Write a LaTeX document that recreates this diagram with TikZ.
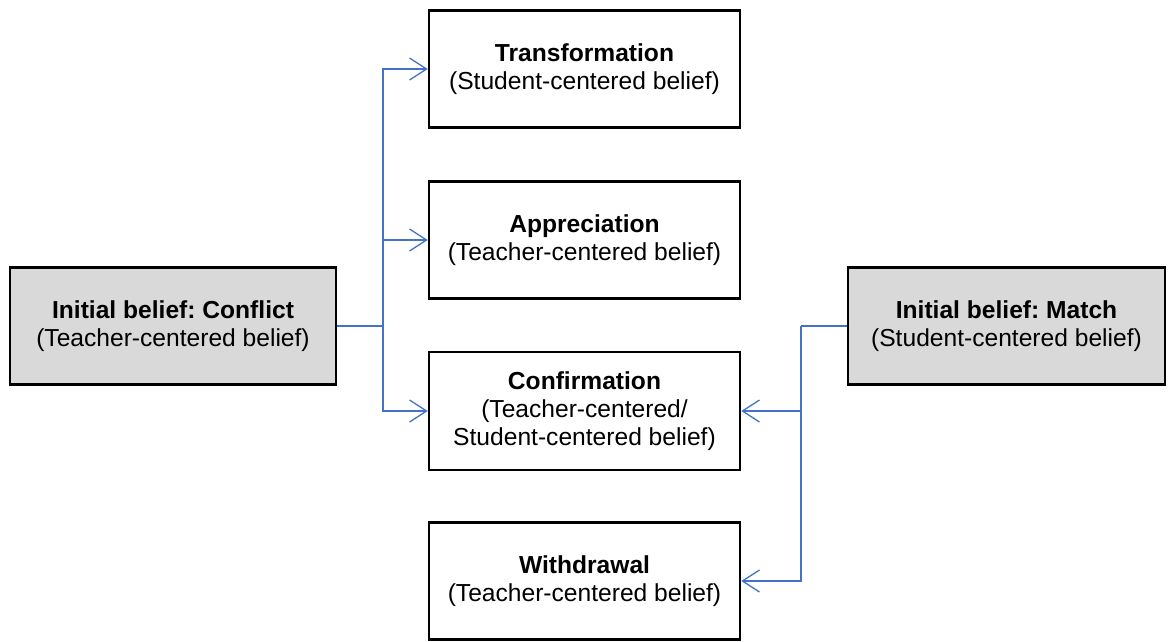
\documentclass[tikz,border=0pt]{standalone}
\usepackage{fontspec}
\setmainfont{Liberation Sans}
\frenchspacing
\usetikzlibrary{arrows.meta}
\definecolor{conn}{HTML}{4472C4}
\definecolor{boxgray}{HTML}{D9D9D9}
\begin{document}
\begin{tikzpicture}[x=1pt,y=-1pt,
  box/.style={draw=black, line width=2.5pt, align=center, inner sep=0pt,
    font=\fontsize{24.6}{28}\selectfont, minimum height=117pt},
  midbox/.style={box, minimum width=311pt},
  startbox/.style={box, fill=boxgray},
  link/.style={draw=conn, line width=1.3pt},
  arr/.style={link, -{Straight Barb[length=17pt,width=22pt,line width=1.3pt]}}]
\useasboundingbox (0,0) rectangle (1169,641);
\node[midbox] (T) at (584.5,69) {\textbf{Transformation}\\(Student-centered belief)};
\node[midbox] (A) at (584.5,240) {\textbf{Appreciation}\\(Teacher-centered belief)};
\node[midbox, minimum height=118pt] (C) at (584.5,411) {\textbf{Confirmation}\\(Teacher-centered/\\Student-centered belief)};
\node[midbox] (W) at (584.5,581) {\textbf{Withdrawal}\\(Teacher-centered belief)};
\node[startbox, minimum width=326pt] (L) at (173,326) {\textbf{Initial belief: Conflict}\\(Teacher-centered belief)};
\node[startbox, minimum width=317pt] (R) at (1006.5,326) {\textbf{Initial belief: Match}\\(Student-centered belief)};
\coordinate (lj) at (383,326);
\coordinate (rj) at (801,326);
\draw[link] (L.east) -- (lj);
\draw[arr] (lj) |- (T.west);
\draw[arr] (lj) |- (A.west);
\draw[arr] (lj) |- (C.west);
\draw[link] (R.west) -- (rj);
\draw[arr] (rj) |- (C.east);
\draw[arr] (rj) |- (W.east);
\end{tikzpicture}
\end{document}
